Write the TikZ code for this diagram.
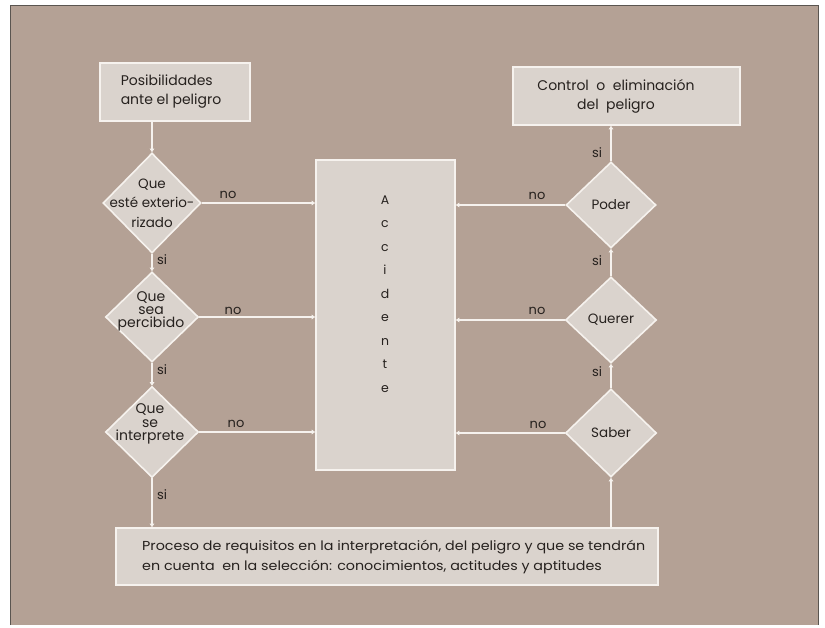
\documentclass[tikz,border=0pt]{standalone}
\usepackage{fontspec}
\setmainfont{Poppins}
\newfontfamily\widefont[FakeStretch=1.1]{Poppins}
\usetikzlibrary{shapes.geometric,arrows.meta}
\definecolor{panel}{HTML}{B4A195}
\definecolor{boxfill}{HTML}{DAD3CD}
\definecolor{edge}{HTML}{F6F2EE}
\definecolor{ink}{HTML}{26211E}
\definecolor{frame}{HTML}{5A5550}

\begin{document}
\begin{tikzpicture}[x=1pt,y=-1pt,
  every node/.style={text=ink},
  box/.style={draw=edge, line width=1.6pt, fill=boxfill, rectangle, inner sep=0pt},
  dia/.style={draw=edge, line width=1.6pt, fill=boxfill, diamond, inner sep=0pt},
  dtext/.style={align=center, inner sep=0pt},
  link/.style={draw=edge, line width=1.4pt, -{Triangle[length=3.5pt,width=4.5pt]}},
  lbl/.style={font=\fontsize{13}{14}\selectfont, inner sep=0pt}
]
% page and panel
\fill[white] (0,0) rectangle (825,628);
\useasboundingbox (0,0) rectangle (825,628);
\fill[panel] (10,6) rectangle (818,625);
\draw[frame, line width=1pt] (10,625) -- (10,6) -- (818,6) -- (818,625);

% left column
\node[box, minimum width=150pt, minimum height=58pt] (start) at (175,92) {};
\node[align=left, inner sep=0pt, font=\fontsize{14}{19}\selectfont] (starttxt) at (171,92) {Posibilidades\\ante el peligro};

\node[dia, minimum width=98pt, minimum height=100pt] (d1) at (152,203) {};
\node[dtext, font=\fontsize{13.5}{19.5}\selectfont] (d1t) at (152,203) {Que\\esté exterio-\\rizado};

\node[dia, minimum width=93pt, minimum height=90pt] (d2) at (152,317) {};
\node[dtext, font=\fontsize{14}{13}\selectfont] (d2t) at (151,311) {Que\\sea\\percibido};

\node[dia, minimum width=93pt, minimum height=91pt] (d3) at (152,432) {};
\node[dtext, font=\fontsize{14}{13.5}\selectfont] (d3t) at (150,424) {Que\\se\\interprete};

% central block
\node[box, minimum width=139pt, minimum height=310pt] (acc) at (385.5,315) {};
\node[align=center, inner sep=0pt, font=\fontsize{12.5}{23.5}\selectfont] (acctxt) at (385,294)
  {A\\c\\c\\i\\d\\e\\n\\t\\e};

% right column
\node[box, minimum width=227pt, minimum height=58pt] (goal) at (626.5,96) {};
\node[align=center, inner sep=0pt, font=\fontsize{14}{19}\selectfont] (goaltxt) at (616,96) {Control\ \ o\ \ eliminación\\del\ \ peligro};

\node[dia, minimum width=90pt, minimum height=86pt] (poder) at (611,205) {};
\node[dtext, font=\fontsize{13.5}{15}\selectfont] (podert) at (611,205) {Poder};
\node[dia, minimum width=91pt, minimum height=86pt] (querer) at (611,320) {};
\node[dtext, font=\fontsize{13.5}{15}\selectfont] (querert) at (611,320) {Querer};
\node[dia, minimum width=91pt, minimum height=88pt] (saber) at (611,433) {};
\node[dtext, font=\fontsize{13.5}{15}\selectfont] (sabert) at (611,433) {Saber};

% bottom block
\node[box, minimum width=542pt, minimum height=57pt] (proc) at (387,556.5) {};
\node[anchor=west, align=left, inner sep=0pt, font=\widefont\fontsize{13}{20}\selectfont] (proctxt) at (142,557)
  {Proceso de requisitos en la interpretación, del peligro y que se tendrán\\
   en cuenta\ \ en la selección: conocimientos, actitudes y aptitudes};

% downward chain on the left
\draw[link] (start.south -| d1.north) -- (d1.north);
\draw[link] (d1.south) -- (d2.north);
\draw[link] (d2.south) -- (d3.north);
\draw[link] (d3.south) -- (d3.south |- proc.north);

% upward chain on the right
\draw[link] (proc.north -| saber.south) -- (saber.south);
\draw[link] (saber.north) -- (querer.south);
\draw[link] (querer.north) -- (poder.south);
\draw[link] (poder.north) -- (poder.north |- goal.south);

% "no" branches into the accident block
\draw[link] (d1.east) -- (d1.east -| acc.west);
\draw[link] (d2.east) -- (d2.east -| acc.west);
\draw[link] (d3.east) -- (d3.east -| acc.west);
\draw[link] (poder.west) -- (poder.west -| acc.east);
\draw[link] (querer.west) -- (querer.west -| acc.east);
\draw[link] (saber.west) -- (saber.west -| acc.east);

% branch labels
\node[lbl] (n1) at (228,195) {no};
\node[lbl] (n2) at (233,311) {no};
\node[lbl] (n3) at (236,424) {no};
\node[lbl] (n4) at (537,196) {no};
\node[lbl] (n5) at (537,311) {no};
\node[lbl] (n6) at (538,425) {no};

\node[lbl] (s1) at (162,260) {si};
\node[lbl] (s2) at (162,370) {si};
\node[lbl] (s3) at (162,495) {si};
\node[lbl] (s4) at (597,153) {si};
\node[lbl] (s5) at (597,261) {si};
\node[lbl] (s6) at (597,372) {si};
\end{tikzpicture}
\end{document}
